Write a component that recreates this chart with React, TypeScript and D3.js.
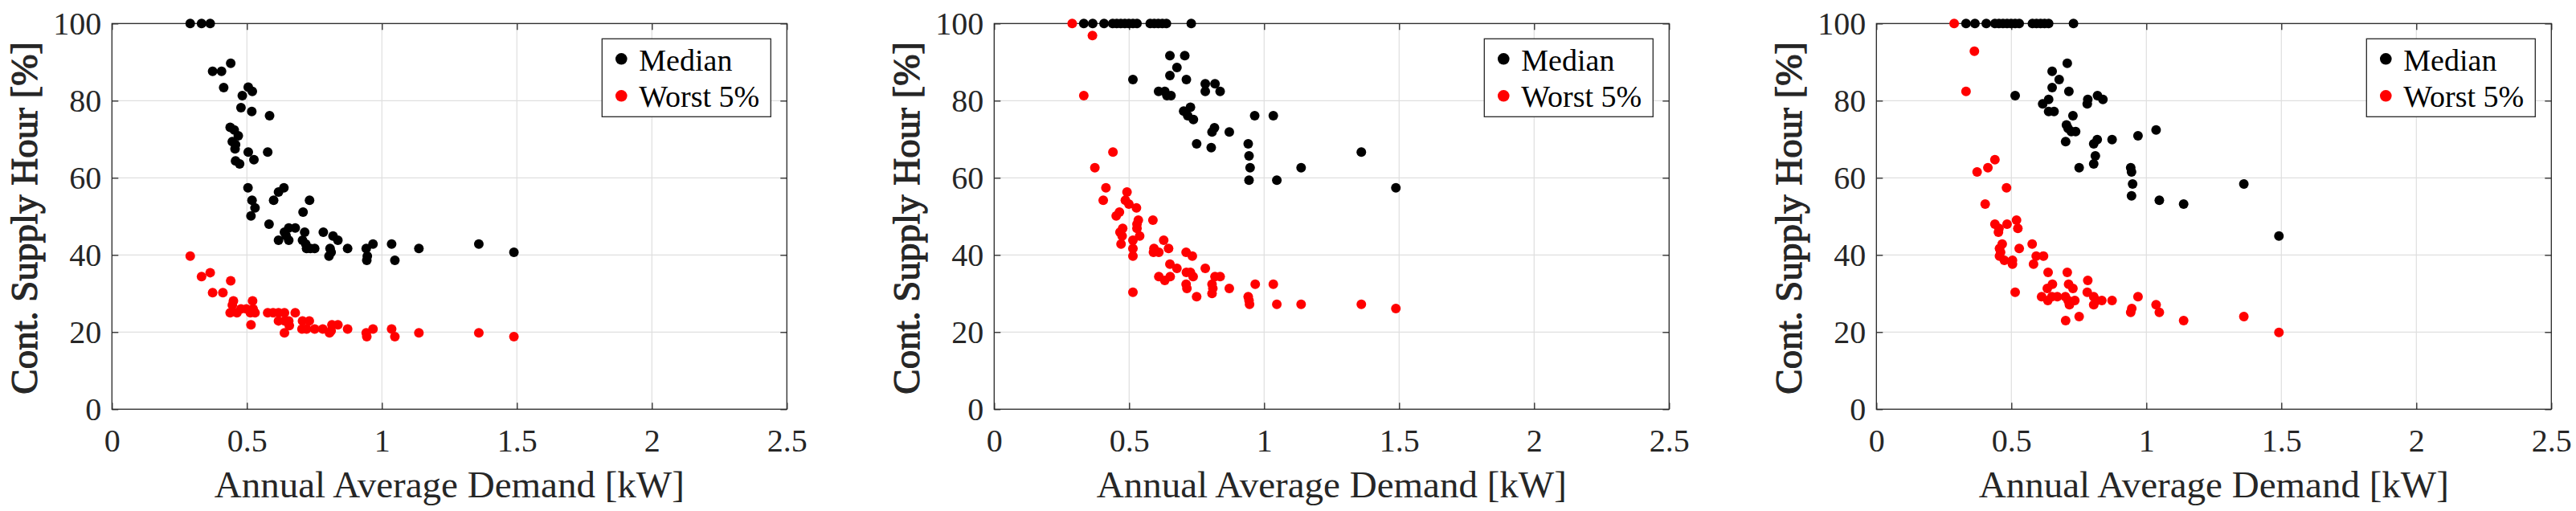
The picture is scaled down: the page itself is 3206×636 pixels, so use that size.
import { useEffect, useRef } from 'react';
import * as d3 from 'd3';

type Pt = [number, number];

// x: annual average demand [kW], y: continuous supply hour [%]
const xTicks = [0, 0.5, 1, 1.5, 2, 2.5];
const yTicks = [0, 20, 40, 60, 80, 100];
const seriesNames = ['Median', 'Worst 5%'];
const seriesColors = ['#000000', '#ff0000'];

const medianA: Pt[] = [
  [0.29, 100], [0.332, 100], [0.364, 100], [0.44, 89.7], [0.373, 87.6], [0.406, 87.6],
  [0.414, 83.4], [0.505, 83.5], [0.52, 82.4], [0.483, 81.3], [0.478, 78.2], [0.518, 77.2],
  [0.584, 76.1], [0.438, 73.1], [0.453, 72.4], [0.468, 70.9], [0.446, 69.4], [0.458, 68.6],
  [0.456, 67.5], [0.505, 66.7], [0.577, 66.7], [0.458, 64.4], [0.473, 63.6], [0.526, 64.7],
  [0.504, 57.4], [0.519, 54.2], [0.53, 52.2], [0.515, 50.1], [0.599, 54.2], [0.617, 56.3],
  [0.637, 57.4], [0.732, 54.2], [0.708, 51.1], [0.582, 48.0], [0.617, 43.8], [0.639, 45.9],
  [0.655, 47.0], [0.679, 47.0], [0.655, 43.8], [0.645, 45.0], [0.714, 45.9], [0.706, 43.8],
  [0.718, 42.8], [0.721, 41.7], [0.735, 41.7], [0.751, 41.7], [0.783, 45.9], [0.819, 44.9],
  [0.837, 43.8], [0.808, 41.7], [0.812, 40.7], [0.804, 39.7], [0.873, 41.7], [0.942, 41.7],
  [0.946, 39.7], [0.944, 38.6], [0.967, 42.8], [1.036, 42.8], [1.048, 38.6], [1.137, 41.7],
  [1.359, 42.8], [1.489, 40.7],
];

const worstA: Pt[] = [
  [0.29, 39.7], [0.332, 34.4], [0.364, 35.4], [0.44, 33.3], [0.373, 30.2], [0.411, 30.2],
  [0.45, 28.1], [0.521, 28.1], [0.446, 27.0], [0.438, 25.0], [0.463, 25.0], [0.478, 26.0],
  [0.498, 26.0], [0.513, 25.0], [0.53, 25.0], [0.523, 26.0], [0.515, 21.9], [0.577, 25.0],
  [0.597, 25.0], [0.617, 25.0], [0.639, 25.0], [0.679, 25.0], [0.617, 22.9], [0.639, 22.9],
  [0.655, 22.9], [0.657, 21.7], [0.639, 19.8], [0.706, 22.9], [0.731, 22.9], [0.704, 20.8],
  [0.721, 20.8], [0.751, 20.8], [0.781, 20.8], [0.815, 21.9], [0.837, 21.9], [0.806, 19.8],
  [0.812, 20.3], [0.873, 20.8], [0.942, 19.8], [0.944, 18.8], [0.967, 20.8], [1.036, 20.8],
  [1.048, 18.8], [1.137, 19.8], [1.359, 19.8], [1.489, 18.8],
];

const medianB: Pt[] = [
  [0.332, 100], [0.365, 100], [0.407, 100], [0.439, 100], [0.454, 100], [0.469, 100],
  [0.484, 100], [0.499, 100], [0.514, 100], [0.529, 100], [0.578, 100], [0.593, 100],
  [0.608, 100], [0.623, 100], [0.638, 100], [0.73, 100],
  [0.651, 91.7], [0.706, 91.7], [0.677, 88.6], [0.651, 86.5], [0.514, 85.5], [0.712, 85.5],
  [0.782, 84.4], [0.818, 84.4], [0.782, 82.4], [0.837, 82.4], [0.609, 82.4], [0.632, 82.4],
  [0.64, 81.3], [0.655, 81.3], [0.727, 78.3], [0.702, 77.3], [0.717, 76.1], [0.738, 75.1],
  [0.965, 76.1], [1.034, 76.1], [0.816, 73.0], [0.807, 71.9], [0.871, 71.9], [0.75, 68.8],
  [0.804, 67.8], [0.941, 68.8], [0.944, 65.7], [0.948, 62.6], [0.944, 59.4], [1.137, 62.6],
  [1.047, 59.4], [1.36, 66.7], [1.488, 57.4],
];

const worstB: Pt[] = [
  [0.289, 100], [0.364, 96.9], [0.332, 81.3], [0.44, 66.7], [0.373, 62.6], [0.414, 57.4],
  [0.404, 54.2], [0.492, 56.3], [0.486, 54.2], [0.499, 53.2], [0.527, 52.2], [0.464, 51.1],
  [0.452, 50.1], [0.534, 49.0], [0.588, 49.0], [0.529, 48.0], [0.529, 46.9], [0.476, 46.9],
  [0.466, 45.9], [0.474, 44.9], [0.539, 44.9], [0.514, 43.8], [0.47, 42.8], [0.514, 41.7],
  [0.514, 39.7], [0.628, 43.8], [0.646, 41.7], [0.592, 41.7], [0.59, 40.7], [0.61, 40.7],
  [0.711, 40.7], [0.734, 39.7], [0.651, 37.6], [0.677, 36.5], [0.782, 36.5], [0.712, 35.5],
  [0.727, 35.5], [0.737, 34.4], [0.61, 34.4], [0.632, 33.4], [0.652, 34.4], [0.818, 34.4],
  [0.837, 34.4], [0.807, 32.4], [0.81, 31.3], [0.807, 30.0], [0.711, 32.4], [0.714, 31.3],
  [0.871, 31.3], [0.967, 32.4], [1.034, 32.4], [0.75, 29.2], [0.514, 30.3], [0.941, 29.2],
  [0.944, 28.2], [0.946, 27.2], [1.047, 27.2], [1.137, 27.2], [1.36, 27.2], [1.488, 26.1],
];

const medianC: Pt[] = [
  [0.332, 100], [0.365, 100], [0.407, 100], [0.439, 100], [0.454, 100], [0.469, 100],
  [0.484, 100], [0.499, 100], [0.514, 100], [0.529, 100], [0.578, 100], [0.593, 100],
  [0.608, 100], [0.623, 100], [0.638, 100], [0.73, 100],
  [0.707, 89.7], [0.651, 87.6], [0.677, 85.5], [0.651, 83.4], [0.713, 82.4], [0.514, 81.3],
  [0.819, 81.3], [0.839, 80.3], [0.783, 80.3], [0.781, 79.2], [0.638, 80.3], [0.616, 79.2],
  [0.638, 77.2], [0.658, 77.2], [0.728, 76.1], [0.704, 73.7], [0.71, 72.8], [0.722, 72.0],
  [0.738, 72.0], [1.036, 72.4], [0.969, 70.9], [0.873, 69.9], [0.818, 69.9], [0.805, 68.8],
  [0.701, 69.4], [0.811, 65.7], [0.805, 63.6], [0.751, 62.6], [0.942, 62.6], [0.945, 61.5],
  [0.949, 58.4], [0.945, 55.3], [1.048, 54.2], [1.138, 53.2], [1.361, 58.4], [1.491, 44.9],
];

const worstC: Pt[] = [
  [0.288, 100], [0.363, 92.8], [0.332, 82.4], [0.439, 64.7], [0.413, 62.6], [0.373, 61.5],
  [0.482, 57.4], [0.403, 53.2], [0.439, 48.0], [0.454, 46.9], [0.452, 45.9], [0.484, 48.0],
  [0.519, 49.0], [0.524, 46.9], [0.466, 42.8], [0.456, 41.7], [0.46, 40.7], [0.456, 39.7],
  [0.474, 38.6], [0.504, 38.6], [0.504, 37.6], [0.529, 41.7], [0.577, 42.8], [0.592, 39.7],
  [0.619, 39.7], [0.582, 37.6], [0.636, 35.5], [0.707, 35.5], [0.783, 33.4], [0.652, 32.4],
  [0.712, 32.4], [0.728, 31.3], [0.633, 31.3], [0.781, 30.3], [0.514, 30.3], [0.612, 29.2],
  [0.635, 28.2], [0.65, 29.2], [0.67, 29.2], [0.7, 29.2], [0.71, 28.2], [0.715, 27.1],
  [0.735, 28.2], [0.805, 29.2], [0.815, 28.2], [0.805, 27.1], [0.835, 28.2], [0.873, 28.2],
  [0.969, 29.2], [0.946, 26.1], [0.942, 25.1], [1.036, 27.1], [1.048, 25.1], [0.751, 24.0],
  [0.701, 23.0], [1.138, 23.0], [1.361, 24.0], [1.491, 19.9],
];

const panels: Pt[][][] = [
  [medianA, worstA],
  [medianB, worstB],
  [medianC, worstC],
];

const W = 3206;
const H = 636;
const FONT = '"Liberation Serif", "Times New Roman", serif';
const AXIS_COLOR = '#262626';
const GRID_COLOR = '#dfdfdf';

export default function App() {
  const svgRef = useRef<SVGSVGElement>(null);

  useEffect(() => {
    if (!svgRef.current) return;
    const svg = d3.select(svgRef.current);
    svg.selectAll('*').remove();

    const plotW = 840;
    const plotH = 480;
    const top = 29.3;
    const lefts = [139.3, 1237.3, 2335.3];

    panels.forEach((series, p) => {
      const x0 = lefts[p];
      const g = svg
        .append('g')
        .attr('transform', `translate(${x0},${top})`)
        .attr('font-family', FONT);

      const x = d3.scaleLinear().domain([0, 2.5]).range([0, plotW]);
      const y = d3.scaleLinear().domain([0, 100]).range([plotH, 0]);

      // grid
      g.append('g')
        .selectAll('line')
        .data(xTicks.slice(1, -1))
        .enter()
        .append('line')
        .attr('x1', (d) => x(d))
        .attr('x2', (d) => x(d))
        .attr('y1', 0)
        .attr('y2', plotH)
        .attr('stroke', GRID_COLOR)
        .attr('stroke-width', 1.2);
      g.append('g')
        .selectAll('line')
        .data(yTicks.slice(1, -1))
        .enter()
        .append('line')
        .attr('x1', 0)
        .attr('x2', plotW)
        .attr('y1', (d) => y(d))
        .attr('y2', (d) => y(d))
        .attr('stroke', GRID_COLOR)
        .attr('stroke-width', 1.2);

      // axes (ticks point inward)
      const fmt = (d: d3.NumberValue) => String(+d);
      const styleAxis = (a: d3.Selection<SVGGElement, unknown, null, undefined>) => {
        a.attr('font-family', FONT).attr('font-size', 40);
        a.select('.domain').remove();
        a.selectAll('line').attr('stroke', AXIS_COLOR).attr('stroke-width', 1.3);
        a.selectAll('text').attr('fill', AXIS_COLOR);
      };
      g.append('g')
        .attr('transform', `translate(0,${plotH})`)
        .call(d3.axisBottom(x).tickValues(xTicks).tickFormat(fmt).tickSize(-8).tickPadding(24))
        .call(styleAxis);
      g.append('g')
        .call(d3.axisLeft(y).tickValues(yTicks).tickFormat(fmt).tickSize(-8).tickPadding(13))
        .call(styleAxis);
      g.append('g')
        .call(d3.axisTop(x).tickValues(xTicks).tickFormat(() => '').tickSize(-8))
        .call(styleAxis);
      g.append('g')
        .attr('transform', `translate(${plotW},0)`)
        .call(d3.axisRight(y).tickValues(yTicks).tickFormat(() => '').tickSize(-8))
        .call(styleAxis);

      g.append('rect')
        .attr('width', plotW)
        .attr('height', plotH)
        .attr('fill', 'none')
        .attr('stroke', AXIS_COLOR)
        .attr('stroke-width', 1.3);

      // data
      series.forEach((pts, s) => {
        g.append('g')
          .selectAll('circle')
          .data(pts)
          .enter()
          .append('circle')
          .attr('cx', (d) => x(d[0]))
          .attr('cy', (d) => y(d[1]))
          .attr('r', 6)
          .attr('fill', seriesColors[s]);
      });

      // axis labels
      g.append('text')
        .attr('x', plotW / 2)
        .attr('y', 590)
        .attr('text-anchor', 'middle')
        .attr('fill', AXIS_COLOR)
        .attr('font-size', 47)
        .text('Annual Average Demand [kW]');
      g.append('text')
        .attr('transform', `translate(-93.8,${plotH / 2 + 2}) rotate(-90)`)
        .attr('text-anchor', 'middle')
        .attr('fill', AXIS_COLOR)
        .attr('stroke', AXIS_COLOR)
        .attr('stroke-width', 1.2)
        .attr('font-size', 47)
        .text('Cont. Supply Hour [%]');

      // legend
      const lg = g.append('g').attr('transform', `translate(${plotW - 230},19)`);
      lg.append('rect')
        .attr('width', 210)
        .attr('height', 97)
        .attr('fill', '#ffffff')
        .attr('stroke', AXIS_COLOR)
        .attr('stroke-width', 1.3);
      seriesNames.forEach((name, i) => {
        lg.append('circle')
          .attr('cx', 24)
          .attr('cy', 25 + i * 46)
          .attr('r', 7.3)
          .attr('fill', seriesColors[i]);
        lg.append('text')
          .attr('x', 46)
          .attr('y', 39.4 + i * 45.6)
          .attr('fill', '#000000')
          .attr('font-size', 38)
          .text(name);
      });
    });
  }, []);

  return (
    <svg
      ref={svgRef}
      width={W}
      height={H}
      style={{ position: 'absolute', left: 0, top: 0, background: '#ffffff' }}
    />
  );
}
